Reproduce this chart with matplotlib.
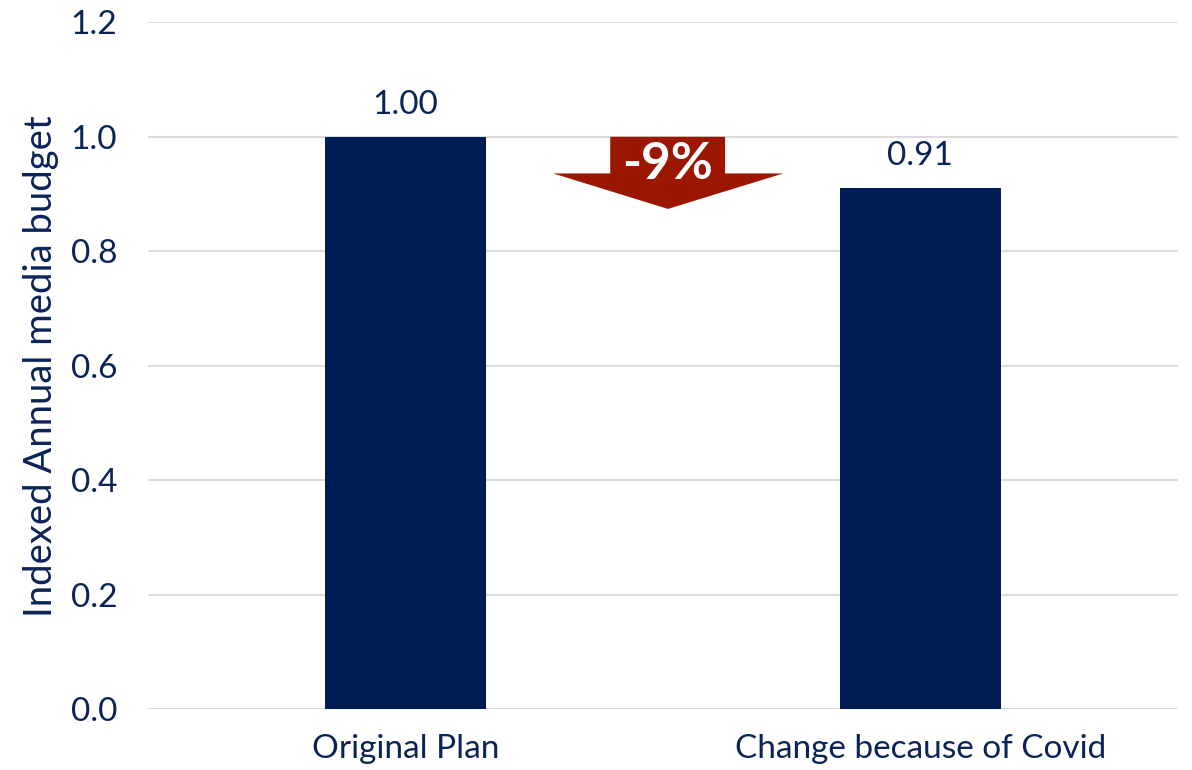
import numpy as np
import matplotlib.pyplot as plt
from matplotlib.patches import Polygon

categories = ['Original Plan', 'Change because of Covid']
budget = [1.00, 0.91]
change_label = '-9%'

navy = '#001C54'
text_col = '#0B2458'
red = '#9B1700'
grid_col = '#DCDCDC'

plt.rcParams['font.family'] = ['Lato', 'DejaVu Sans']

fig = plt.figure(figsize=(11.92, 7.70), dpi=100)
ax = fig.add_axes([0.124, 0.079, 0.864, 0.892])

x = np.arange(len(categories))
ax.bar(x, budget, width=0.313, color=navy, zorder=3)
for xi, v in zip(x, budget):
    ax.text(xi, v + 0.03, f'{v:.2f}', ha='center', va='bottom',
            fontsize=24, color=text_col)

ax.set_xlim(-0.5, 1.5)
ax.set_ylim(0, 1.2)
ax.set_yticks(np.arange(0, 1.21, 0.2))
ax.set_yticklabels([f'{t:.1f}' for t in np.arange(0, 1.21, 0.2)])
ax.set_xticks(x)
ax.set_xticklabels(categories)
ax.tick_params(length=0, labelsize=24, labelcolor=text_col)
ax.tick_params(axis='x', pad=18)
ax.tick_params(axis='y', pad=22)
ax.yaxis.grid(True, color=grid_col, linewidth=1.5, zorder=0)
ax.set_axisbelow(True)
for s in ax.spines.values():
    s.set_visible(False)
ax.set_ylabel('Indexed Annual media budget', fontsize=27.5, color=text_col,
              labelpad=8)

# down arrow between the bars showing the drop
mid = 0.51
top = budget[0]
neck = top - 0.064
tip = budget[1] - 0.036
shape = [(mid - 0.112, top), (mid + 0.111, top), (mid + 0.111, neck),
         (mid + 0.224, neck), (mid, tip), (mid - 0.223, neck),
         (mid - 0.112, neck)]
ax.add_patch(Polygon(shape, closed=True, color=red, zorder=4, lw=0))
ax.text(mid, neck + 0.016, change_label, ha='center', va='center',
        color='white', fontsize=37, fontweight='bold', zorder=5)

fig.savefig('out.png', dpi=100)
